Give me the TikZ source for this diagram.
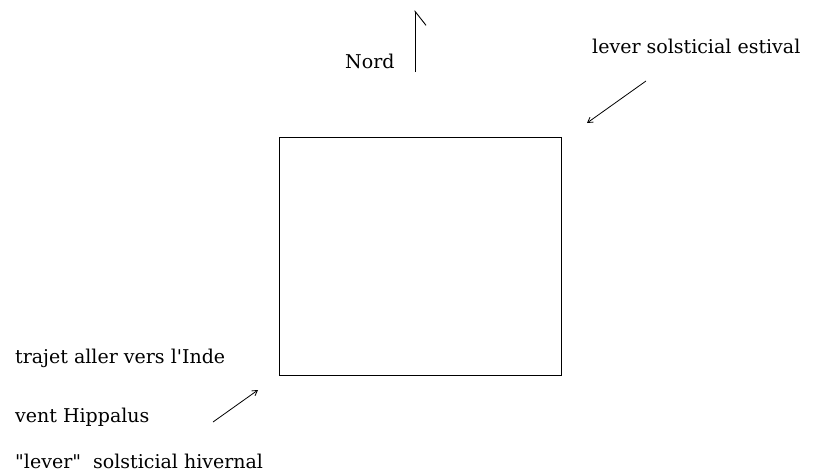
\documentclass[tikz,border=0pt]{standalone}
\usepackage{fontspec}
\setmainfont{DejaVu Serif}
\usetikzlibrary{arrows.meta}

\begin{document}
\begin{tikzpicture}[
    x=1pt, y=-1pt,
    every node/.style={font=\fontsize{19}{22}\selectfont, inner sep=0pt},
    label/.style={anchor=base west},
    pointer/.style={-{Straight Barb[length=5pt, width=6pt]}, line width=0.8pt},
    ]
    \useasboundingbox (0,0) rectangle (825,474);
    % Square
    \draw[line width=0.9pt] (279,137) rectangle (561,375);
    % North
    \node[label] (nord) at (345,68) {Nord};
    \coordinate (nb) at (415,72);
    \coordinate (nt) at (415,10);
    \draw[-{Straight Barb[right, length=14pt, width=22pt]}, line width=0.9pt] (nb) -- (nt);
    % Summer sunrise
    \node[label] (estival) at (592,53) {lever solsticial estival};
    \coordinate (ea) at (646,81);
    \coordinate (eb) at (587,123);
    \draw[pointer] (ea) -- (eb);
    % Winter sunrise
    \node[label] (trajet) at (15,363) {trajet aller vers l\textquotesingle Inde};
    \node[label] (vent) at (15,422) {vent Hippalus};
    \node[label] (hivernal) at (15,468) {\textquotedbl lever\textquotedbl\ \ solsticial hivernal};
    \coordinate (ha) at (213,422);
    \coordinate (hb) at (258,390);
    \draw[pointer] (ha) -- (hb);
\end{tikzpicture}
\end{document}
